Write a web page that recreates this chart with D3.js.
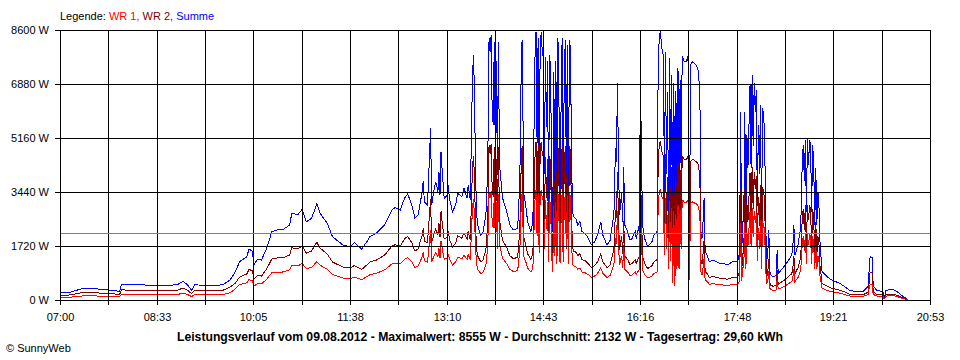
<!DOCTYPE html>
<html>
<head>
<meta charset="utf-8">
<script src="https://cdn.jsdelivr.net/npm/d3@7"></script>
<style>
  body{margin:0;background:#fff;}
  svg{display:block;font-family:"Liberation Sans",Arial,sans-serif;}
</style>
</head>
<body>
<div id="chart"></div>
<script>
// minutes after 07:00
const minutes=[0,10,22,32,38,46,53,57,59,77,96,112,118,123,126,129,144,156,163,
168,172,179,181,184,186,189,193,198,203,208,213,220,222,228,232,236,241,246,249,256,261,271,278,282,289,295,297,303,311,318,321,326,330,333,337,340,343,347,348,349,352,354,355,356,358,360,362,363,364,365,366,368,371,372,373,376,379,381,385,387,390,391,393,
394,395,396,397,398,399,400,403,405,408,409,410,411,412,413,414,415,416,417,418,419,420,421,422,423,424,428,431,434,438,439,440,441,442,443,444,446,448,451,453,
454,455,456,457,458,459,460,461,462,463,464,465,466,467,468,469,470,471,472,473,474,475,476,477,478,479,480,481,482,483,484,485,486,487,488,489,490,491,
492,494,496,498,500,503,506,509,512,515,518,520,524,527,530,531,532,533,534,535,536,538,539,540,541,544,546,548,551,552,553,555,556,557,558,560,563,567,569,572,
573,574,575,576,577,578,579,580,581,582,583,584,585,586,587,588,589,590,591,592,593,594,595,596,597,598,
600,601,602,603,604,606,609,611,612,613,614,615,616,617,618,620,622,625,629,632,635,639,642,644,649,651,
652,653,654,655,656,657,658,659,660,661,662,663,664,665,666,667,668,669,670,671,672,673,674,675,676,677,678,679,680,681,
683,686,687,688,691,695,698,701,702,703,704,707,
709,710,711,712,713,714,715,716,717,718,719,720,721,722,723,724,725,726,727,728,
730,733,735,739,742,747,752,756,761,769,774,775,776,778,779,782,787,788,789,790,791,793,798,802,807,812];

// Summe (W)
const summe=[230,250,370,380,340,320,300,270,500,480,470,480,600,450,310,480,470,480,640,
900,1220,1380,1620,1560,1120,1300,1270,1650,2180,2230,2230,2390,2760,2720,2890,2490,2600,3060,2770,2440,2020,1750,1700,1830,1620,1910,2020,2120,2390,2870,2940,2870,3240,3380,3030,2600,2710,3450,3800,3130,3030,4620,5470,3030,3450,3770,3450,4090,3340,4720,4190,3240,3340,3660,3240,2810,3030,3400,3290,3560,3240,3660,3190,
5000,6950,7800,6740,4200,2810,2390,2070,2120,2710,3500,5040,8340,7900,8440,6000,5570,8230,4500,7600,3980,8230,4300,4000,3560,3240,2810,2390,2230,2280,2600,3500,4720,8120,8280,3450,3030,2490,2180,2490,
5260,7700,8550,5000,8340,3660,8120,8550,7900,7700,4000,7750,5500,7600,2930,7800,7300,3500,2180,7270,3450,7600,2810,8340,6210,2900,6200,8340,2980,7000,8280,4000,8120,2800,8280,8010,4500,2810,
2650,2600,2390,2490,2180,2120,1970,1770,1850,2070,2490,2070,1750,1900,2600,3000,4830,4400,6900,4300,2700,3450,2500,4250,2390,2150,1910,1960,2180,1960,2120,2390,7000,4720,2390,1960,1700,1850,2070,2180,
7380,8340,8555,8230,7900,7800,3500,7900,4000,6630,2400,7700,3000,7170,1330,6900,1120,6650,2390,7380,2390,7000,4000,7750,7700,7600,
7590,7700,7550,1540,7490,7600,7490,7380,7060,6480,2180,1960,2500,3240,1540,1430,1220,1270,1220,1170,1170,1120,1170,1220,1220,1500,
6000,1500,2500,2500,6000,2400,5260,4200,5570,6850,4200,7170,4900,6900,6000,6690,3000,5570,4000,6210,2400,6100,5890,5260,2400,1220,1500,2230,900,800,
740,780,1590,850,960,1120,1270,1430,1700,2390,1430,1750,
2200,2810,4400,4940,3800,5100,2810,5150,4300,5100,4940,2810,4940,4300,2400,4200,2400,3450,3030,1860,
900,800,740,640,600,530,420,320,270,270,420,900,1380,1350,450,320,270,330,150,110,300,320,330,260,130,20];

// WR 2 (W)
const wr2=[150,160,240,240,220,200,190,170,320,310,300,310,380,290,200,310,300,310,410,
540,730,830,970,940,670,780,760,990,1310,1340,1340,1430,1660,1630,1730,1490,1560,1840,1660,1460,1210,1050,1020,1100,970,1150,1210,1270,1430,1720,1760,1720,1940,2030,1820,1560,1630,2070,2280,1880,1820,2770,3230,1820,2070,2260,2070,2450,2000,2830,2510,1940,2000,2200,1940,1690,1820,2040,1970,2140,1940,2200,1910,
2950,4100,4600,3980,2480,1660,1410,1220,1250,1600,2070,2970,4920,4660,4980,3540,3290,4860,2660,4480,2350,4860,2540,2360,2100,1910,1660,1410,1320,1350,1530,2070,2780,4790,4890,2040,1790,1470,1290,1470,
3100,4540,5040,2950,4920,2160,4790,5040,4660,4540,2360,4570,3250,4480,1730,4600,4310,2070,1290,4290,2040,4480,1660,4920,3660,1710,3660,4920,1760,4130,4890,2360,4790,1650,4890,4730,2660,1660,
1560,1530,1410,1470,1290,1250,1160,1040,1090,1220,1470,1220,1030,1120,1530,1770,2850,2600,4070,2540,1590,2040,1480,2510,1410,1270,1130,1160,1290,1160,1250,1410,4130,2780,1410,1160,1000,1090,1220,1290,
4350,4920,5050,4860,4660,4600,2070,4660,2360,3910,1420,4540,1770,4230,780,4070,660,3920,1410,4350,1410,4130,2360,4570,4540,4480,
4480,4540,4450,910,4420,4480,4420,4350,4170,3820,1290,1160,1480,1910,910,840,720,750,720,690,690,660,690,720,720,890,
3540,890,1480,1480,3540,1420,3100,2480,3290,4040,2480,4230,2890,4070,3540,3950,1770,3290,2360,3660,1420,3600,3480,3100,1420,720,890,1320,530,470,
440,460,940,500,570,660,750,840,1000,1410,840,1030,
1300,1660,2600,2910,2240,3010,1660,3040,2540,3010,2910,1660,2910,2540,1420,2480,1420,2040,1790,1100,
530,470,440,380,350,310,250,190,160,160,250,530,880,860,270,190,160,190,90,60,180,190,190,150,80,10];

// WR 1 (W)
const wr1=[80,90,130,140,120,120,110,100,180,170,170,170,220,160,110,170,170,170,230,
360,490,550,650,620,450,520,510,660,870,890,890,960,1100,1090,1160,1000,1040,1220,1110,980,810,700,680,730,650,760,810,850,960,1150,1180,1150,1300,1350,1210,1040,1080,1380,1520,1250,1210,1850,2240,1210,1380,1510,1380,1640,1340,1890,1680,1300,1340,1460,1300,1120,1210,1360,1320,1420,1300,1460,1280,
2050,2850,3200,2760,1720,1150,980,850,870,1110,1430,2070,3420,3240,3460,2460,2280,3370,1840,3120,1630,3370,1760,1640,1460,1330,1150,980,910,930,1070,1430,1940,3330,3390,1410,1240,1020,890,1020,
2160,3160,3510,2050,3420,1500,3330,3510,3240,3160,1640,3180,2250,3120,1200,3200,2990,1430,890,2980,1410,3120,1150,3420,2550,1190,2540,3420,1220,2870,3390,1640,3330,1150,3390,3280,1840,1150,
1090,1070,980,1020,890,870,810,730,760,850,1020,850,720,780,1070,1230,1980,1800,2830,1760,1110,1410,1020,1740,980,880,780,800,890,800,870,980,2870,1940,980,800,700,760,850,890,
3030,3420,3505,3370,3240,3200,1430,3240,1640,2720,980,3160,1230,2940,550,2830,460,2730,980,3030,980,2870,1640,3180,3160,3120,
3110,3160,3100,630,3070,3120,3070,3030,2890,2660,890,800,1020,1330,630,590,500,520,500,480,480,460,480,500,500,610,
2460,610,1020,1020,2460,980,2160,1720,2280,2810,1720,2940,2010,2830,2460,2740,1230,2280,1640,2550,980,2500,2410,2160,980,500,610,910,370,330,
300,320,650,350,390,460,520,590,700,980,590,720,
900,1150,1800,2030,1560,2090,1150,2110,1760,2090,2030,1150,2030,1760,980,1720,980,1410,1240,760,
370,330,300,260,250,220,170,130,110,110,170,370,500,490,180,130,110,140,60,50,120,130,140,110,50,10];

const seriesNames=[`WR 1`,`WR 2`,`Summe`];
const yTicks=[0,1720,3440,5160,6880,8600];
const timeLabels=[`07:00`,`08:33`,`10:05`,`11:38`,`13:10`,`14:43`,`16:16`,`17:48`,`19:21`,`20:53`];
const dayLength=833.4;     // 07:00 .. 20:53, in minutes
const average=2132;
const dayDate=`09.08.2012`;
const dailyYield=`29,60`;

let Setting={
    width:960,height:360,
    plot:{left:60,right:930,top:30,bottom:300},
    color:{[`WR 1`]:`#ff0000`,[`WR 2`]:`#800000`,[`Summe`]:`#0000ff`},
    font:`11px`
};

let svg=d3.select(`#chart`).append(`svg`)
    .attr(`width`,Setting.width)
    .attr(`height`,Setting.height);
svg.append(`rect`).attr(`width`,Setting.width).attr(`height`,Setting.height).attr(`fill`,`#fff`);

let x=d3.scaleLinear().domain([0,dayLength]).range([Setting.plot.left,Setting.plot.right]);
let xr=x.copy().interpolate(d3.interpolateRound);
let y=d3.scaleLinear().domain([0,yTicks[yTicks.length-1]]).range([Setting.plot.bottom,Setting.plot.top]);

//data lines, Summe below, WR 1 on top
let drawOrder=[[`Summe`,summe],[`WR 2`,wr2],[`WR 1`,wr1]];
drawOrder.forEach(([name,values])=>{
    let valueline=d3.line()
        .x((d,i)=>x(minutes[i]))
        .y(d=>y(d));
    svg.append(`path`)
        .datum(values)
        .attr(`class`,`line`)
        .attr(`fill`,`none`)
        .attr(`stroke`,Setting.color[name])
        .attr(`stroke-width`,1)
        .attr(`shape-rendering`,`crispEdges`)
        .attr(`d`,valueline);
});

//grid
let gridTimes=d3.range(19).map(i=>i*dayLength/18);
svg.append(`g`).selectAll(`line`).data(gridTimes).enter().append(`line`)
    .attr(`x1`,d=>xr(d)+0.5).attr(`x2`,d=>xr(d)+0.5)
    .attr(`y1`,Setting.plot.top).attr(`y2`,Setting.plot.bottom)
    .attr(`stroke`,`#000`).attr(`shape-rendering`,`crispEdges`);
svg.append(`g`).selectAll(`line`).data(yTicks).enter().append(`line`)
    .attr(`x1`,Setting.plot.left).attr(`x2`,Setting.plot.right+1)
    .attr(`y1`,d=>Math.round(y(d))+0.5).attr(`y2`,d=>Math.round(y(d))+0.5)
    .attr(`stroke`,`#000`).attr(`shape-rendering`,`crispEdges`);

//average line
svg.append(`line`)
    .attr(`x1`,Setting.plot.left).attr(`x2`,Setting.plot.right)
    .attr(`y1`,Math.round(y(average))+0.5).attr(`y2`,Math.round(y(average))+0.5)
    .attr(`stroke`,`#808080`).attr(`shape-rendering`,`crispEdges`);

//axes
let yAxis=svg.append(`g`)
    .attr(`transform`,`translate(${Setting.plot.left},0)`)
    .call(d3.axisLeft(y).tickValues(yTicks).tickSize(5).tickSizeOuter(0).tickPadding(6).tickFormat(d=>`${d} W`));
let xAxis=svg.append(`g`)
    .attr(`transform`,`translate(0,${Setting.plot.bottom})`)
    .call(d3.axisBottom(xr).tickValues(gridTimes).tickSize(5).tickSizeOuter(0).tickPadding(8)
        .tickFormat((d,i)=>i%2==0?timeLabels[i/2]:``));
[yAxis,xAxis].forEach(a=>{
    a.attr(`font-family`,null).attr(`font-size`,Setting.font);
    a.selectAll(`path,line`).attr(`stroke`,`#000`).attr(`shape-rendering`,`crispEdges`);
    a.selectAll(`text`).attr(`fill`,`#000`);
});

//legend
let legend=svg.append(`text`).attr(`x`,60).attr(`y`,20).style(`font-size`,Setting.font);
legend.append(`tspan`).attr(`fill`,`#000`).text(`Legende: `);
seriesNames.forEach((n,i)=>{
    legend.append(`tspan`).attr(`fill`,Setting.color[n])
        .text(n+(i<seriesNames.length-1?`, `:``));
});

//caption
let caption=`Leistungsverlauf vom ${dayDate} - Maximalwert: ${d3.max(summe)} W - Durchschnitt: ${average} W - Tagesertrag: ${dailyYield} kWh`;
svg.append(`text`)
    .attr(`x`,480).attr(`y`,341)
    .attr(`text-anchor`,`middle`)
    .attr(`textLength`,606).attr(`lengthAdjust`,`spacingAndGlyphs`)
    .style(`font-size`,`12px`).style(`font-weight`,`bold`)
    .text(caption);

svg.append(`text`)
    .attr(`x`,6).attr(`y`,352)
    .style(`font-size`,Setting.font)
    .text(`© SunnyWeb`);
</script>
</body>
</html>
